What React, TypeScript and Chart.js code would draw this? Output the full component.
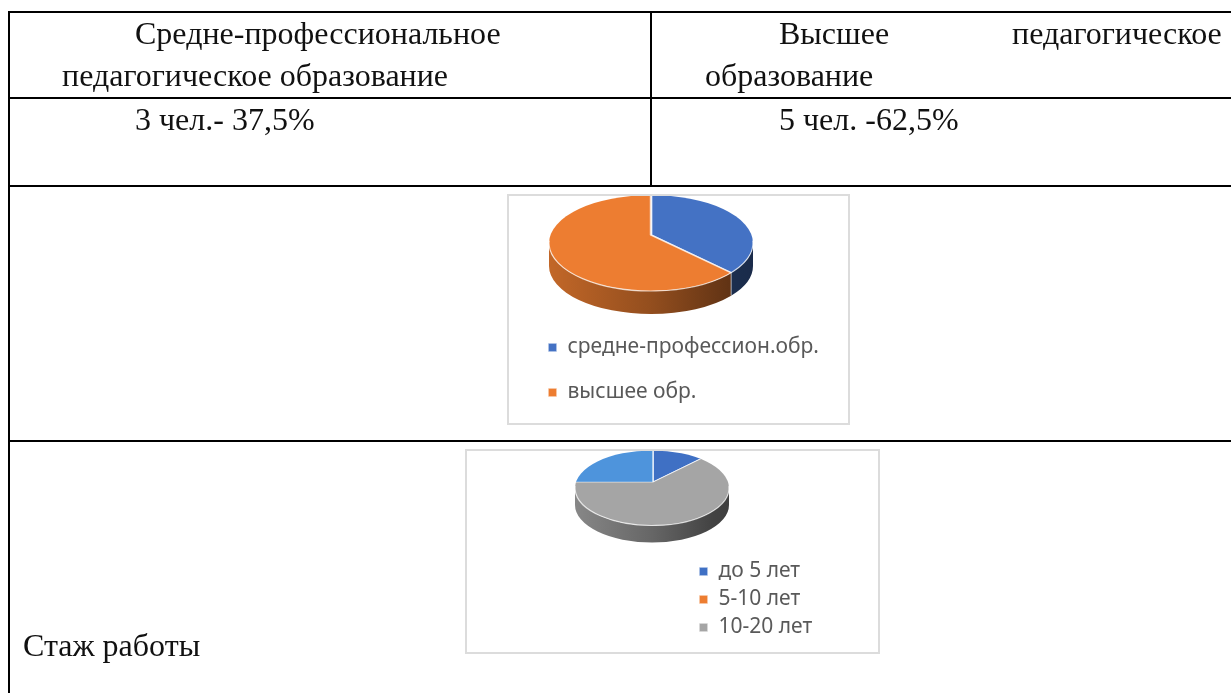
import React, { useEffect, useRef } from "react";
import { Chart, registerables } from "chart.js";

Chart.register(...registerables);

const educationLabels = ["средне-профессион.обр.", "высшее обр."];
const educationValues = [3, 5];
const educationColors = ["#4472c4", "#ed7d31"];

const tenureLabels = ["до 5 лет", "5-10 лет", "10-20 лет", "20 лет и более"];
const tenureValues = [1, 0, 5, 2];
const tenureColors = ["#3f70c4", "#ed7d31", "#a5a5a5", "#4e94dc"];
const tenureLegendCount = 3;

const tableTexts = [
  { text: "Средне-профессиональное", x: 135, base: 43 },
  { text: "педагогическое образование", x: 62, base: 85 },
  { text: "Высшее", x: 779, base: 43 },
  { text: "педагогическое", x: 1012, base: 43 },
  { text: "образование", x: 705, base: 85 },
  { text: "3 чел.- 37,5%", x: 135, base: 129 },
  { text: "5 чел. -62,5%", x: 779, base: 129 },
  { text: "Стаж работы", x: 23, base: 655 },
];

const hLines = [
  { x: 8, y: 11, w: 1223 },
  { x: 8, y: 97, w: 1223 },
  { x: 8, y: 185, w: 1223 },
  { x: 8, y: 440, w: 1223 },
];
const vLines = [
  { x: 8, y: 11, h: 682 },
  { x: 650, y: 11, h: 175 },
];

function shade(hex: string, f: number) {
  const n = parseInt(hex.slice(1), 16);
  const r = Math.round(((n >> 16) & 255) * f);
  const g = Math.round(((n >> 8) & 255) * f);
  const b = Math.round((n & 255) * f);
  return `rgb(${r},${g},${b})`;
}

type Geo = {
  cx: number; cy: number; rx: number; ry: number;
  ax: number; ay: number; depth: number;
  legendX: number; legendY: number;
};

const tiltPlugin = {
  id: "tilt",
  afterLayout(chart: any, _a: any, o: Geo) {
    const l = chart.legend;
    const pad = l.options.labels.padding;
    l.left = o.legendX - pad; l.right = chart.width;
    // bottom is generous so the library keeps every row in one column
    l.top = o.legendY - pad; l.bottom = chart.height + 200;
  },
  beforeDatasetsDraw(chart: any, _a: any, o: Geo) {
    const ctx = chart.ctx as CanvasRenderingContext2D;
    const arcs = chart.getDatasetMeta(0).data;
    const colors = chart.data.datasets[0].backgroundColor as string[];
    const nax = (o.ax - o.cx) / o.rx;
    const nay = (o.ay - o.cy) / o.ry;
    const hit = (a: number) => {
      const dx = Math.cos(a), dy = Math.sin(a);
      const b = nax * dx + nay * dy;
      const c = nax * nax + nay * nay - 1;
      const t = -b + Math.sqrt(b * b - c);
      return Math.atan2(nay + t * dy, nax + t * dx);
    };
    // side wall
    arcs.forEach((arc: any, i: number) => {
      if (arc.endAngle - arc.startAngle < 1e-4) return;
      const p0 = hit(arc.startAngle);
      let p1 = hit(arc.endAngle);
      if (p1 <= p0) p1 += Math.PI * 2;
      const a0 = Math.max(p0, 0);
      const a1 = Math.min(p1, Math.PI);
      if (a1 <= a0) return;
      const g = ctx.createLinearGradient(o.cx - o.rx, 0, o.cx + o.rx, 0);
      g.addColorStop(0, shade(colors[i], 0.82));
      g.addColorStop(0.5, shade(colors[i], 0.62));
      g.addColorStop(0.9, shade(colors[i], 0.4));
      g.addColorStop(1, shade(colors[i], 0.38));
      ctx.save();
      ctx.beginPath();
      ctx.ellipse(o.cx, o.cy, o.rx, o.ry, 0, a0, a1);
      ctx.ellipse(o.cx, o.cy + o.depth, o.rx, o.ry, 0, a1, a0, true);
      ctx.closePath();
      ctx.fillStyle = g;
      ctx.fill();
      ctx.strokeStyle = "rgba(255,255,255,0.55)";
      ctx.lineWidth = 1;
      if (a0 > 0) {
        const x = o.cx + o.rx * Math.cos(a0), y = o.cy + o.ry * Math.sin(a0);
        ctx.beginPath();
        ctx.moveTo(x, y);
        ctx.lineTo(x, y + o.depth);
        ctx.stroke();
      }
      ctx.restore();
    });
    // tilted top face: the arcs are drawn by the library under this transform
    const el = arcs[0];
    const R = el.outerRadius;
    const sx = (1.35 * o.rx) / R;
    const sy = (sx * o.ry) / o.rx;
    ctx.save();
    ctx.beginPath();
    ctx.ellipse(o.cx, o.cy, o.rx, o.ry, 0, 0, Math.PI * 2);
    ctx.clip();
    ctx.translate(o.ax, o.ay);
    ctx.scale(sx, sy);
    ctx.translate(-el.x, -el.y);
  },
  afterDatasetsDraw(chart: any, _a: any, o: Geo) {
    const ctx = chart.ctx as CanvasRenderingContext2D;
    ctx.restore();
    ctx.save();
    ctx.strokeStyle = "rgba(255,255,255,0.7)";
    ctx.lineWidth = 1.2;
    ctx.beginPath();
    ctx.ellipse(o.cx, o.cy, o.rx, o.ry, 0, -0.05, Math.PI + 0.05);
    ctx.stroke();
    ctx.restore();
  },
};

function Pie3D(props: {
  left: number; top: number; width: number; height: number;
  labels: string[]; values: number[]; colors: string[];
  geo: Geo; fontSize: number; rowGap: number; legendCount: number;
}) {
  const ref = useRef<HTMLCanvasElement>(null);
  const { left, top, width, height, labels, values, colors, geo, fontSize, rowGap, legendCount } = props;
  useEffect(() => {
    const chart = new Chart(ref.current as HTMLCanvasElement, {
      type: "pie",
      data: {
        labels,
        datasets: [{
          data: values,
          backgroundColor: colors,
          borderColor: "rgba(255,255,255,0.75)",
          borderWidth: 1.5,
          clip: false,
        } as any],
      },
      options: {
        responsive: false,
        maintainAspectRatio: false,
        animation: false,
        devicePixelRatio: 1,
        layout: { padding: 0 },
        plugins: {
          tooltip: { enabled: false },
          title: { display: false },
          legend: {
            position: "right",
            align: "start",
            labels: {
              boxWidth: 9,
              boxHeight: 9,
              padding: rowGap - fontSize,
              color: "#595959",
              font: { family: "'Noto Sans'", size: fontSize },
              filter: (item: any) => item.index < legendCount,
            },
          },
          tilt: geo,
        } as any,
      },
      plugins: [tiltPlugin as any],
    });
    return () => chart.destroy();
  }, []);
  return (
    <div style={{ position: "absolute", left, top, width, height, background: "#fff", filter: "blur(0.6px)" }}>
      <canvas ref={ref} width={width} height={height} style={{ position: "absolute", left: 0, top: 0 }} />
      <div style={{ position: "absolute", inset: 0, border: "2px solid #dcdcdc", boxSizing: "border-box" }} />
    </div>
  );
}

export default function App() {
  return (
    <div style={{ position: "fixed", left: 0, top: 0, width: 1231, height: 693, overflow: "hidden", background: "#fff" }}>
      {hLines.map((l, i) => (
        <div key={i} style={{ position: "absolute", left: l.x, top: l.y, width: l.w, height: 2, background: "#000" }} />
      ))}
      {vLines.map((l, i) => (
        <div key={i} style={{ position: "absolute", left: l.x, top: l.y, width: 2, height: l.h, background: "#000" }} />
      ))}
      {tableTexts.map((t, i) => (
        <div key={i} style={{
          position: "absolute", left: t.x, top: t.base - 28, lineHeight: "36px",
          fontFamily: "'Liberation Serif'", fontSize: 32, color: "#111", whiteSpace: "nowrap",
          filter: "blur(0.3px)",
        }}>{t.text}</div>
      ))}
      <Pie3D
        left={507} top={194} width={343} height={231}
        labels={educationLabels} values={educationValues} colors={educationColors}
        geo={{ cx: 144, cy: 49, rx: 102, ry: 48, ax: 144, ay: 41, depth: 23, legendX: 41, legendY: 143 }}
        fontSize={21} rowGap={45} legendCount={educationLabels.length}
      />
      <Pie3D
        left={465} top={449} width={415} height={205}
        labels={tenureLabels} values={tenureValues} colors={tenureColors}
        geo={{ cx: 187, cy: 39, rx: 77, ry: 37.5, ax: 188, ay: 33, depth: 17, legendX: 234, legendY: 112 }}
        fontSize={21} rowGap={28} legendCount={tenureLegendCount}
      />
    </div>
  );
}
